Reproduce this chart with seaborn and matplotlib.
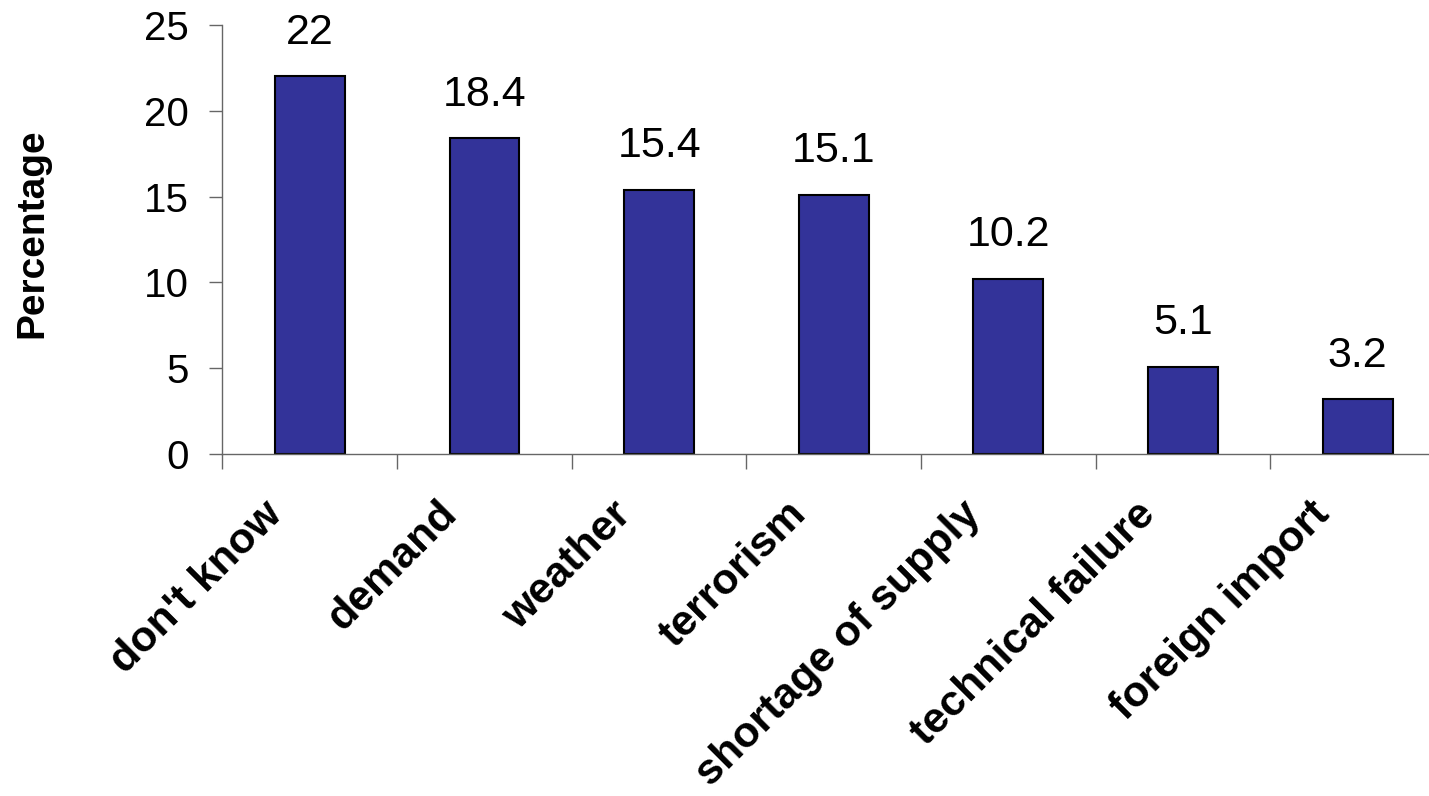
import pandas as pd
import numpy as np
import matplotlib.pyplot as plt
import matplotlib.transforms as mtransforms
import seaborn as sns

# Data
categories = ["don't know", "demand", "weather", "terrorism",
              "shortage of supply", "technical failure", "foreign import"]
values = [22, 18.4, 15.4, 15.1, 10.2, 5.1, 3.2]
value_labels = ["22", "18.4", "15.4", "15.1", "10.2", "5.1", "3.2"]
yticks = [0, 5, 10, 15, 20, 25]

df = pd.DataFrame({"cause": categories, "pct": values})

sns.set_style("white")
plt.rcParams['font.family'] = ['Liberation Sans', 'DejaVu Sans']
plt.rcParams['text.color'] = 'black'
plt.rcParams['axes.labelcolor'] = 'black'

fig = plt.figure(figsize=(14.29, 7.96), dpi=100)
ax = fig.add_axes([0.1557, 0.4296, 0.8555, 0.539])

sns.barplot(data=df, x="cause", y="pct", color="#333399", saturation=1,
            width=0.4, edgecolor="black", linewidth=1.5, ax=ax)

# value labels above the bars
for i, (v, lab) in enumerate(zip(values, value_labels)):
    ax.annotate(lab, (i, v), xytext=(0, 17), textcoords="offset points",
                ha="center", va="bottom", fontsize=31, color="black")

ax.set_xlim(-0.5, len(categories) - 0.5)
ax.set_ylim(0, 25)
ax.set_yticks(yticks)
ax.tick_params(axis="y", labelsize=29, length=9.5, width=1, color="#666666",
               labelcolor="black", direction="out", pad=15, left=True)

# x ticks sit between categories, labels at category centres
ax.set_xticks(np.arange(len(categories) + 1) - 0.5)
ax.set_xticklabels([])
ax.set_xticks(np.arange(len(categories)), minor=True)
ax.set_xticklabels(categories, minor=True, rotation=45, ha="right", va="top",
                   rotation_mode="anchor", fontsize=31, fontweight="bold",
                   color="black")
ax.tick_params(axis="x", which="major", length=11, width=1, color="#666666",
               direction="out", bottom=True)
ax.tick_params(axis="x", which="minor", length=0, pad=0)
shift = mtransforms.ScaledTranslation(-0.48, -0.40, fig.dpi_scale_trans)
for lbl in ax.get_xticklabels(minor=True):
    lbl.set_transform(lbl.get_transform() + shift)

for s in ["top", "right"]:
    ax.spines[s].set_visible(False)
for s in ["left", "bottom"]:
    ax.spines[s].set_color("#666666")
    ax.spines[s].set_linewidth(1)

ax.set_xlabel("")
ax.set_ylabel("Percentage", fontsize=28, fontweight="bold")
ax.yaxis.set_label_coords(-0.141, 0.515)

fig.savefig("out.png", dpi=100)
